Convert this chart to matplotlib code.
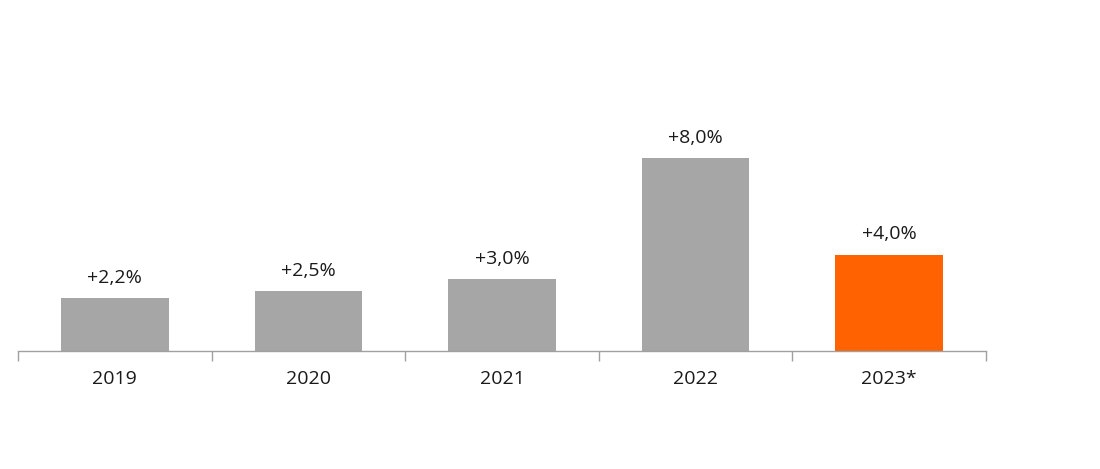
import matplotlib
matplotlib.use("Agg")
import matplotlib.pyplot as plt
from matplotlib.ticker import FixedLocator, NullFormatter

categories = ["2019", "2020", "2021", "2022", "2023*"]
values = [2.2, 2.5, 3.0, 8.0, 4.0]
labels = ["+2,2%", "+2,5%", "+3,0%", "+8,0%", "+4,0%"]
colors = ["#a6a6a6", "#a6a6a6", "#a6a6a6", "#a6a6a6", "#ff6200"]

plt.rcParams['font.family'] = ['Open Sans', 'DejaVu Sans']

W, H = 1100, 469
fig = plt.figure(figsize=(W / 100, H / 100), dpi=100)
base_px = 351
ax = fig.add_axes([18 / W, (H - base_px) / H, (986 - 18) / W, base_px / H])

x = list(range(len(categories)))
ax.bar(x, values, width=0.555, color=colors, zorder=2)
for xi, v, lab in zip(x, values, labels):
    ax.annotate(lab, (xi, v), xytext=(0, 8), textcoords="offset points",
                ha="center", va="bottom", fontsize=14, color="#1a1a1a")

ax.set_xlim(-0.5, len(categories) - 0.5)
ax.set_ylim(0, base_px / 24.1)
ax.set_xticks(x)
ax.set_xticklabels(categories, fontsize=14, color="#1a1a1a")
ax.xaxis.set_minor_locator(FixedLocator([i - 0.5 for i in range(len(categories) + 1)]))
ax.xaxis.set_minor_formatter(NullFormatter())
ax.tick_params(axis="x", which="major", length=0, pad=14)
ax.tick_params(axis="x", which="minor", length=7, width=1, color="#a0a0a0", direction="out")
ax.set_yticks([])
for s in ["top", "right", "left"]:
    ax.spines[s].set_visible(False)
ax.spines["bottom"].set_color("#a0a0a0")
ax.spines["bottom"].set_linewidth(1)

fig.savefig("out.png", dpi=100)
